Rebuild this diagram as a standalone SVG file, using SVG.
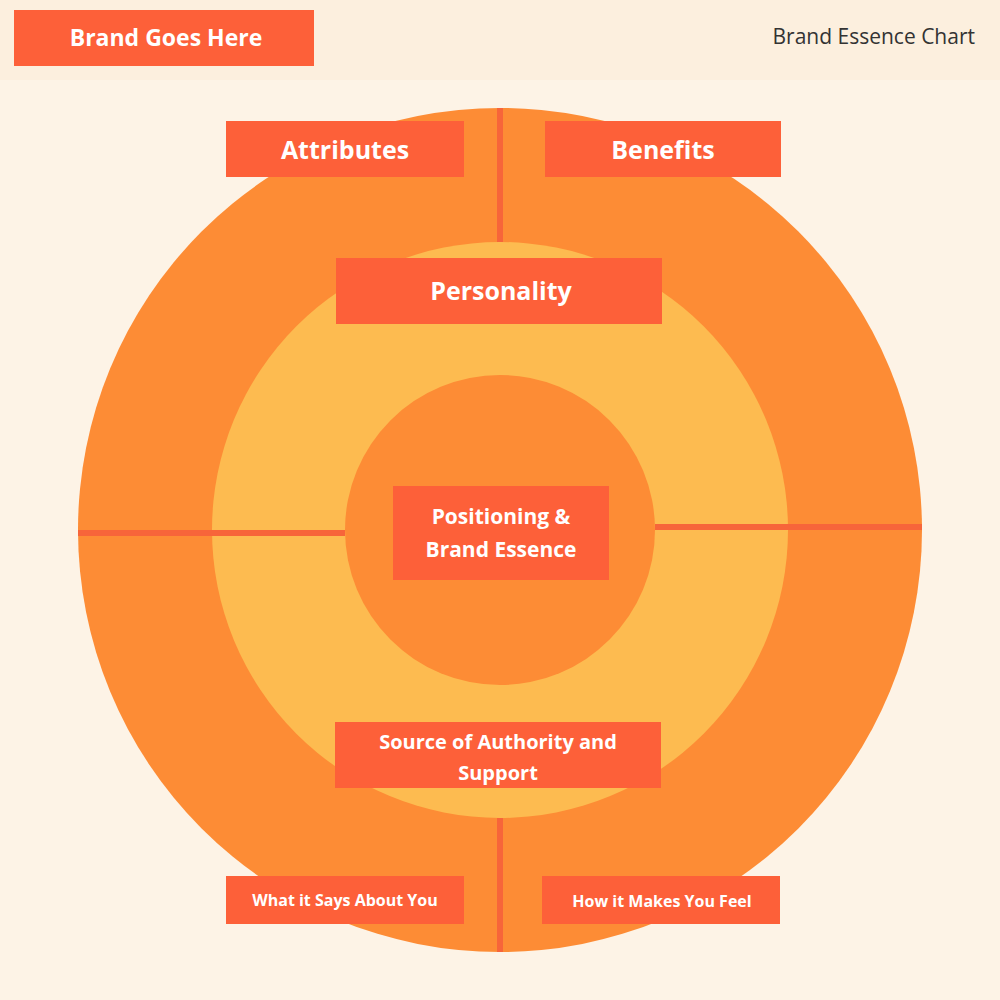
<svg xmlns="http://www.w3.org/2000/svg" width="1000" height="1000" viewBox="0 0 1000 1000">
<style>
.box{fill:#fd6039}
.t{font-family:"Open Sans","Liberation Sans",sans-serif;font-weight:bold;fill:#fff;text-anchor:middle}
.ln{stroke:#f7653a;stroke-width:6}
</style>
<rect width="1000" height="1000" fill="#fdf3e6"/>
<rect width="1000" height="80" fill="#fcefde"/>
<circle cx="500" cy="530" r="422" fill="#fd8c35"/>
<circle cx="500" cy="530" r="288" fill="#fdbb50"/>
<circle cx="500" cy="530" r="155" fill="#fd8c35"/>
<g id="connectors">
<line class="ln" x1="500" y1="108" x2="500" y2="242"/>
<line class="ln" x1="500" y1="818" x2="500" y2="952"/>
<line class="ln" x1="78" y1="533" x2="345" y2="533"/>
<line class="ln" x1="655" y1="527" x2="922" y2="527"/>
</g>
<g id="brand"><rect class="box" x="14" y="10" width="300" height="56"/><text class="t" x="166" y="46" font-size="23">Brand Goes Here</text></g>
<g id="title"><text x="975" y="44" font-family="'Open Sans','Liberation Sans',sans-serif" font-size="21" fill="#333" text-anchor="end">Brand Essence Chart</text></g>
<g id="attributes"><rect class="box" x="226" y="121" width="238" height="56"/><text class="t" x="345" y="159" font-size="25">Attributes</text></g>
<g id="benefits"><rect class="box" x="545" y="121" width="236" height="56"/><text class="t" x="663" y="159" font-size="25">Benefits</text></g>
<g id="personality"><rect class="box" x="336" y="258" width="326" height="66"/><text class="t" x="501" y="300" font-size="25">Personality</text></g>
<g id="positioning"><rect class="box" x="393" y="486" width="216" height="94"/><text class="t" x="501" y="524" font-size="21">Positioning &amp;</text><text class="t" x="501" y="557" font-size="21">Brand Essence</text></g>
<g id="source"><rect class="box" x="335" y="722" width="326" height="66"/><text class="t" x="498" y="749" font-size="20">Source of Authority and</text><text class="t" x="498" y="780" font-size="20">Support</text></g>
<g id="says"><rect class="box" x="226" y="876" width="238" height="48"/><text class="t" x="345" y="906" font-size="16">What it Says About You</text></g>
<g id="feel"><rect class="box" x="542" y="876" width="238" height="48"/><text class="t" x="662" y="907" font-size="16">How it Makes You Feel</text></g>
</svg>
